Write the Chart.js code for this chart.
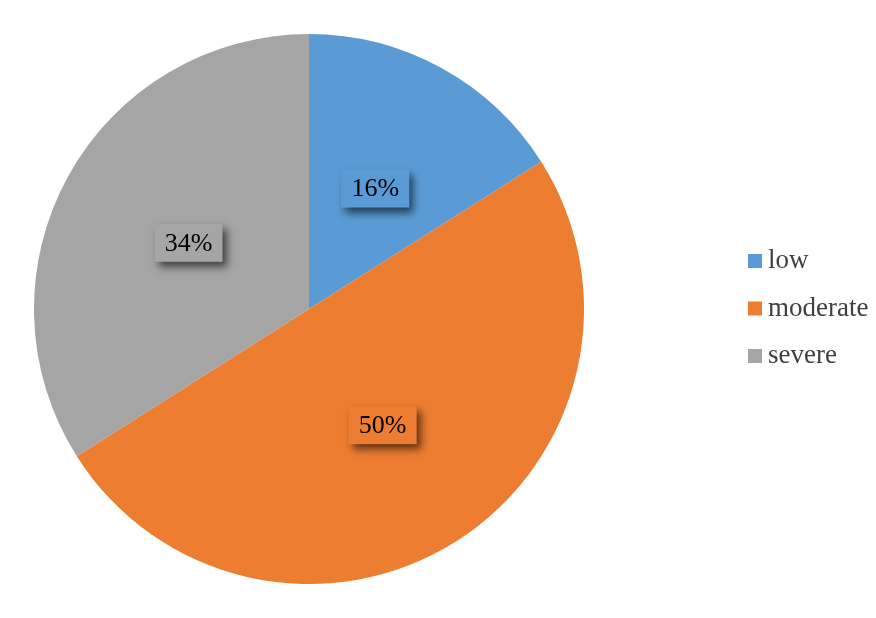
<!DOCTYPE html>
<html>
<head>
<meta charset="utf-8">
<script src="https://cdn.jsdelivr.net/npm/chart.js@4"></script>
<style>
  html, body { margin: 0; padding: 0; background: #fff; }
  #wrap { width: 876px; height: 618px; }
</style>
</head>
<body>
<div id="wrap"><canvas id="chart" width="876" height="618"></canvas></div>
<script>
// ===== DATA =====
const categories = ['low', 'moderate', 'severe'];
const shares = [16, 50, 34];
const sliceColors = ['#5B9BD5', '#ED7D31', '#A5A5A5'];

const SERIF = "'Liberation Serif', 'DejaVu Serif', serif";

// labels in shadowed boxes at half radius
const boxLabels = {
  id: 'boxLabels',
  afterDatasetsDraw(chart) {
    const ctx = chart.ctx;
    const meta = chart.getDatasetMeta(0);
    meta.data.forEach((arc, i) => {
      const mid = (arc.startAngle + arc.endAngle) / 2;
      const r = arc.outerRadius * 0.5;
      const x = arc.x + Math.cos(mid) * r;
      const y = arc.y + Math.sin(mid) * r;
      const w = 68, h = 38;
      ctx.save();
      ctx.shadowColor = 'rgba(0,0,0,0.6)';
      ctx.shadowBlur = 8;
      ctx.shadowOffsetX = 4;
      ctx.shadowOffsetY = 5;
      ctx.fillStyle = sliceColors[i];
      ctx.fillRect(x - w / 2, y - h / 2, w, h);
      ctx.restore();
      ctx.save();
      ctx.font = '26px ' + SERIF;
      ctx.fillStyle = '#000';
      ctx.textAlign = 'center';
      ctx.textBaseline = 'middle';
      ctx.fillText(shares[i] + '%', x, y + 1);
      ctx.restore();
    });
  }
};

// legend on the right
const sideLegend = {
  id: 'sideLegend',
  afterDraw(chart) {
    const ctx = chart.ctx;
    categories.forEach((name, i) => {
      const cy = 261 + i * 47.5;
      ctx.save();
      ctx.fillStyle = sliceColors[i];
      ctx.fillRect(748, cy - 7, 14, 14);
      ctx.font = '27px ' + SERIF;
      ctx.fillStyle = '#404040';
      ctx.textBaseline = 'middle';
      ctx.fillText(name, 768, cy);
      ctx.restore();
    });
  }
};

new Chart(document.getElementById('chart'), {
  type: 'pie',
  data: {
    labels: categories,
    datasets: [{
      data: shares,
      backgroundColor: sliceColors,
      borderWidth: 0,
      hoverOffset: 0
    }]
  },
  options: {
    responsive: false,
    animation: false,
    layout: { padding: { left: 34, right: 292, top: 34, bottom: 34 } },
    plugins: {
      legend: { display: false },
      tooltip: { enabled: false }
    }
  },
  plugins: [boxLabels, sideLegend]
});
</script>
</body>
</html>
